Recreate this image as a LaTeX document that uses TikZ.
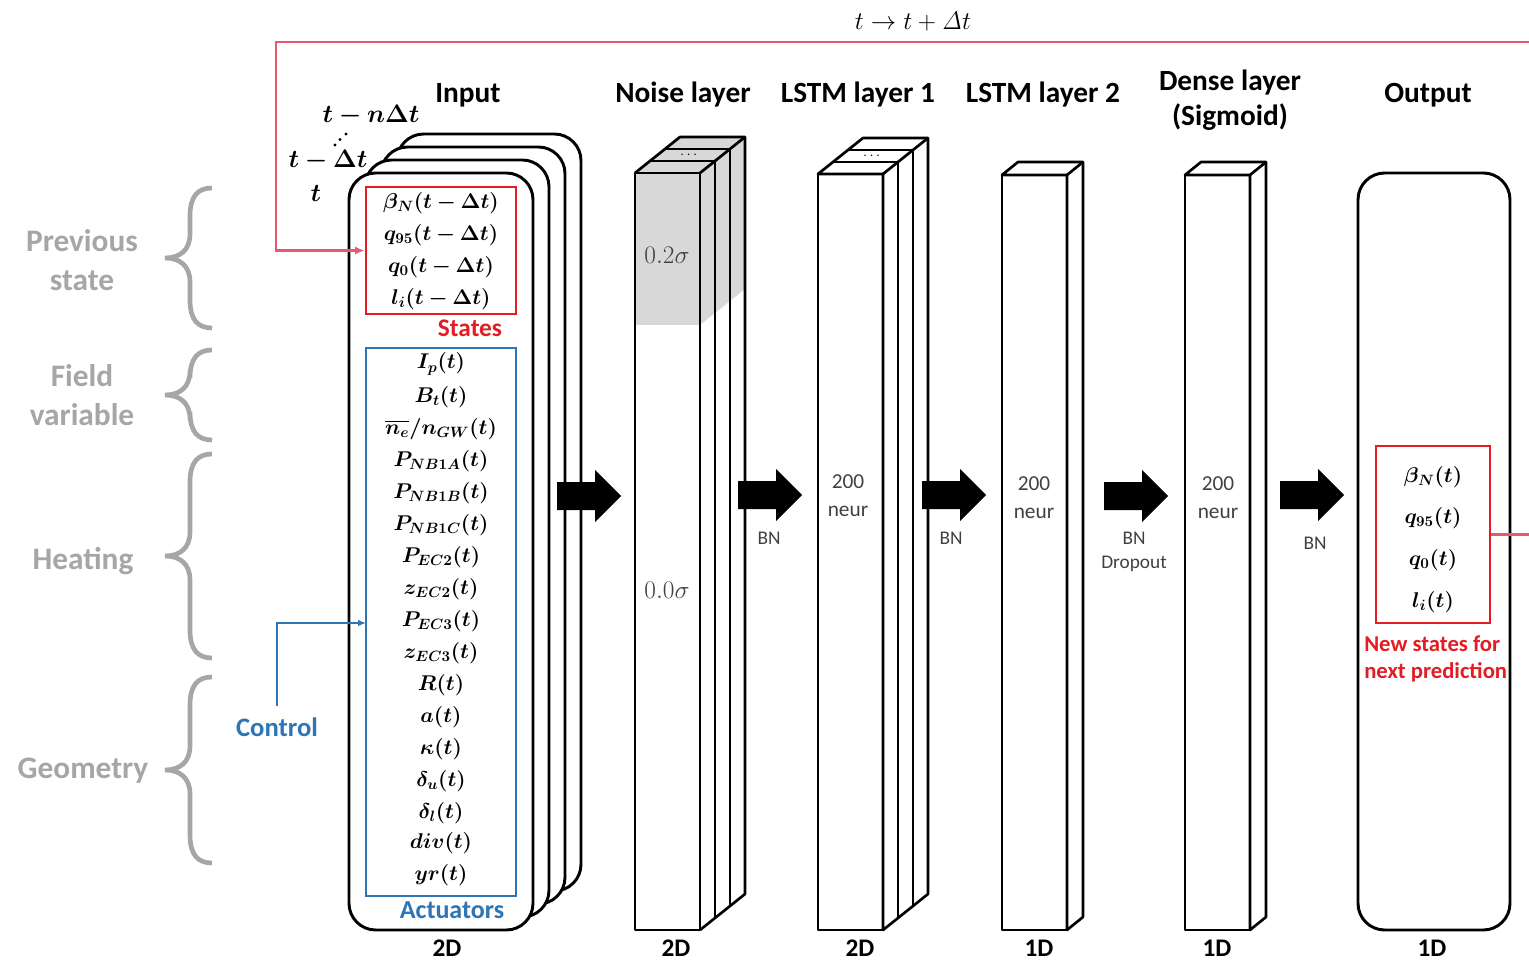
\RequirePackage{fix-cm}
\documentclass[tikz,border=0pt]{standalone}
\usepackage{amsmath,bm}
\usepackage[no-math]{fontspec}
\setmainfont{Carlito}
\usetikzlibrary{arrows.meta,fit}
\definecolor{redc}{RGB}{228,28,36}
\definecolor{fbred}{RGB}{232,88,108}
\definecolor{bluec}{RGB}{46,117,182}
\definecolor{grayc}{RGB}{166,166,166}
\definecolor{darktext}{RGB}{64,64,64}
\definecolor{noisegray}{RGB}{216,216,216}
\newcommand\blockarrow[2]{\fill (#1,#2-14) -- (#1+38,#2-14) -- (#1+38,#2-26) -- (#1+64,#2) -- (#1+38,#2+26) -- (#1+38,#2+14) -- (#1,#2+14) -- cycle;}
\newcommand\gbrace[3]{\draw[brc] (212,#1) .. controls (198,#1) and (190,#1+8) .. (190,#1+28) -- (190,#2-24) .. controls (190,#2-8) and (180,#2) .. (165,#2) .. controls (180,#2) and (190,#2+8) .. (190,#2+24) -- (190,#3-28) .. controls (190,#3-8) and (198,#3) .. (212,#3);}
\begin{document}
\begin{tikzpicture}[x=0.75pt,y=-0.75pt,
  edge/.style={line width=2pt, line join=round},
  card/.style={line width=2.2pt, rounded corners=20pt, fill=white},
  brc/.style={grayc, line width=3.5pt},
  hdr/.style={font=\bfseries\fontsize{22}{26}\selectfont, align=center},
  dim/.style={font=\bfseries\fontsize{19}{22}\selectfont, anchor=base, inner sep=0pt},
  side/.style={font=\bfseries\fontsize{23.5}{29}\selectfont, text=grayc, align=center},
  var/.style={font=\fontsize{16}{19}\selectfont, inner sep=0pt},
  tlab/.style={font=\fontsize{19}{22}\selectfont, inner sep=0pt},
  small/.style={font=\fontsize{14.5}{18}\selectfont, text=darktext, align=center},
  neur/.style={font=\fontsize{16}{21}\selectfont, text=darktext, align=center},
  sig/.style={font=\fontsize{19}{22}\selectfont, text=darktext}
]
\useasboundingbox (0,0) rectangle (1529,963);
\fill[white] (0,0) rectangle (1529,963);

% ---------- feedback label
\node[font=\fontsize{19}{22}\selectfont] (tstep) at (913,22) {$t \rightarrow t + \mathit{\Delta} t$};

% ---------- headers
\node[hdr] (hIn) at (468,95) {Input};
\node[hdr] (hNoise) at (683,95) {Noise layer};
\node[hdr] (hL1) at (858,95) {LSTM layer 1};
\node[hdr] (hL2) at (1043,95) {LSTM layer 2};
\node[hdr] (hDense) at (1230,100) {Dense layer\\(Sigmoid)};
\node[hdr] (hOut) at (1428,95) {Output};

% ---------- time labels
\node[tlab] (tn) at (371,115) {$\bm{t-n\Delta t}$};
\node[tlab] (t1) at (328,160) {$\bm{t-\Delta t}$};
\node[tlab] (t0) at (316,193) {$\bm{t}$};
\fill (335,145) circle (1.3pt);
\fill (340,139.5) circle (1.3pt);
\fill (346,134) circle (1.3pt);

% ---------- input stack of cards
\foreach \i in {3,2,1,0}
  \draw[card] ({349+16*\i},{173-13*\i}) rectangle ++(184,757);

% states box
\node[fit={(366,187)(516,314)}, inner sep=0pt, draw=redc, line width=2.2pt] (states) {};
\node[var] (s1) at (441,203) {$\bm{\beta_N(t-\Delta t)}$};
\node[var] (s2) at (441,235) {$\bm{q_{95}(t-\Delta t)}$};
\node[var] (s3) at (441,267) {$\bm{q_0(t-\Delta t)}$};
\node[var] (s4) at (441,299) {$\bm{l_i(t-\Delta t)}$};
\node[font=\bfseries\fontsize{19}{22}\selectfont, text=redc] (stlab) at (470,328) {States};

% actuators box
\node[fit={(366,348)(516,896)}, inner sep=0pt, draw=bluec, line width=2pt] (act) {};
\node[var] (a1) at (441,364) {$\bm{I_p(t)}$};
\node[var] (a2) at (441,397) {$\bm{B_t(t)}$};
\node[var] (a3) at (441,429) {$\bm{\overline{n_e}/n_{GW}(t)}$};
\node[var] (a4) at (441,461) {$\bm{P_{NB1A}(t)}$};
\node[var] (a5) at (441,493) {$\bm{P_{NB1B}(t)}$};
\node[var] (a6) at (441,525) {$\bm{P_{NB1C}(t)}$};
\node[var] (a7) at (441,557) {$\bm{P_{EC2}(t)}$};
\node[var] (a8) at (441,589) {$\bm{z_{EC2}(t)}$};
\node[var] (a9) at (441,621) {$\bm{P_{EC3}(t)}$};
\node[var] (a10) at (441,653) {$\bm{z_{EC3}(t)}$};
\node[var] (a11) at (441,685) {$\bm{R(t)}$};
\node[var] (a12) at (441,717) {$\bm{a(t)}$};
\node[var] (a13) at (441,749) {$\bm{\kappa(t)}$};
\node[var] (a14) at (441,781) {$\bm{\delta_u(t)}$};
\node[var] (a15) at (441,813) {$\bm{\delta_l(t)}$};
\node[var] (a16) at (441,843) {$\bm{div(t)}$};
\node[var] (a17) at (441,875) {$\bm{yr(t)}$};
\node[font=\bfseries\fontsize{19.5}{22}\selectfont, text=bluec] (aclab) at (452,910) {Actuators};

% ---------- noise layer (3 slabs, gray upper part)
\fill[white] (635,173) rectangle (700,930);
\fill[white] (700,173) -- (745,137) -- (745,894) -- (700,930) -- cycle;
\fill[noisegray] (635,173) rectangle (700,325);
\fill[noisegray] (700,173) -- (745,137) -- (745,289) -- (700,325) -- cycle;
\fill[noisegray] (635,173) -- (680,137) -- (745,137) -- (700,173) -- cycle;
\draw[edge] (635,173) rectangle (700,930);
\draw[edge] (635,173) -- (680,137) -- (745,137) -- (745,894) -- (700,930);
\draw[edge] (700,173) -- (745,137);
\draw[edge] (650,161) -- (715,161) -- (715,918);
\draw[edge] (665,149) -- (730,149) -- (730,906);
\node[font=\fontsize{11}{11}\selectfont, inner sep=0pt] (ndots) at (690,155) {$\cdots$};
\node[sig] (n02) at (667,255) {$0.2\sigma$};
\node[sig] (n00) at (667,590) {$0.0\sigma$};

% ---------- LSTM layer 1 (3 slabs)
\draw[edge, fill=white] (818,174) rectangle (883,930);
\draw[edge, fill=white] (818,174) -- (863,138) -- (928,138) -- (928,894) -- (883,930) -- (883,174) -- cycle;
\draw[edge] (883,174) -- (928,138);
\draw[edge] (833,162) -- (898,162) -- (898,918);
\draw[edge] (848,150) -- (913,150) -- (913,906);
\node[font=\fontsize{11}{11}\selectfont, inner sep=0pt] (l1dots) at (873,156) {$\cdots$};
\node[neur] (l1n) at (848,496) {200\\neur};

% ---------- LSTM layer 2
\draw[edge, fill=white] (1002,175) rectangle (1067,930);
\draw[edge, fill=white] (1002,175) -- (1018,162) -- (1083,162) -- (1083,917) -- (1067,930) -- (1067,175) -- cycle;
\draw[edge] (1067,175) -- (1083,162);
\node[neur] (l2n) at (1034,498) {200\\neur};

% ---------- Dense layer
\draw[edge, fill=white] (1185,175) rectangle (1250,930);
\draw[edge, fill=white] (1185,175) -- (1201,162) -- (1266,162) -- (1266,917) -- (1250,930) -- (1250,175) -- cycle;
\draw[edge] (1250,175) -- (1266,162);
\node[neur] (dn) at (1218,498) {200\\neur};

% ---------- Output
\draw[card] (1358,173) rectangle (1510,930);
\node[fit={(1376,446)(1490,623)}, inner sep=0pt, draw=redc, line width=2.2pt] (obox) {};
\node[var] (o1) at (1433,477) {$\bm{\beta_N(t)}$};
\node[var] (o2) at (1433,518) {$\bm{q_{95}(t)}$};
\node[var] (o3) at (1433,560) {$\bm{q_0(t)}$};
\node[var] (o4) at (1433,602) {$\bm{l_i(t)}$};
\node[font=\bfseries\fontsize{17}{20}\selectfont, text=redc, align=left, anchor=west, inner sep=0pt] (newst) at (1364,659) {New states for\\next prediction};

% ---------- block arrows and labels
\blockarrow{557}{496}
\blockarrow{738}{495}
\blockarrow{922}{495}
\blockarrow{1104}{496}
\blockarrow{1280}{495}
\node[small] (bn1) at (769,538) {BN};
\node[small] (bn2) at (951,538) {BN};
\node[small] (bn3) at (1134,552) {BN\\Dropout};
\node[small] (bn4) at (1315,543) {BN};

% ---------- bottom dims
\node[dim] (d1) at (447,956) {2D};
\node[dim] (d2) at (676,956) {2D};
\node[dim] (d3) at (860,956) {2D};
\node[dim] (d4) at (1039,956) {1D};
\node[dim] (d5) at (1217,956) {1D};
\node[dim] (d6) at (1432,956) {1D};

% ---------- left side labels and braces
\node[side] (gPrev) at (82,260) {Previous\\state};
\node[side] (gField) at (82,395) {Field\\variable};
\node[side] (gHeat) at (83,561) {Heating};
\node[side] (gGeo) at (83,771) {Geometry};
\gbrace{188}{258}{328}
\gbrace{350}{395}{440}
\gbrace{454}{556}{658}
\gbrace{677}{770}{863}

% ---------- control connector
\node[font=\bfseries\fontsize{20}{24}\selectfont, text=bluec] (ctl) at (277,727) {Control};
\coordinate (ctltop) at (277,706);
\coordinate (actin) at (366,623);
\draw[bluec, line width=1.6pt, -{Latex[length=6pt,width=5pt]}] (ctltop) |- (actin);

% ---------- feedback connector
\draw[fbred, line width=2.2pt, -{Latex[length=7pt,width=6pt]}] (obox.east) -- ++(42,0) |- (276,42) |- (states.west);
\end{tikzpicture}
\end{document}
